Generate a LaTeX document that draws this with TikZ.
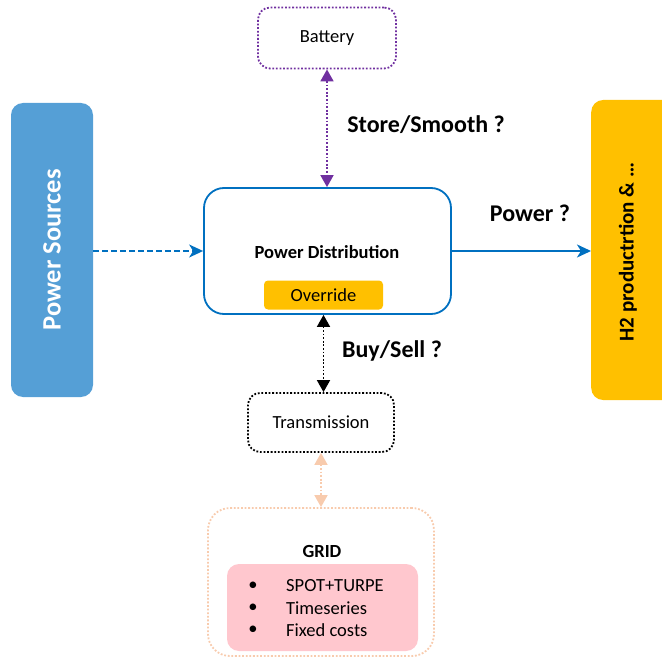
\documentclass[tikz,border=0pt]{standalone}
\usepackage{fontspec}
\setmainfont{Carlito}
\usetikzlibrary{arrows.meta}
\definecolor{pdblue}{HTML}{0070C0}
\definecolor{srcblue}{HTML}{559FD6}
\definecolor{amber}{HTML}{FFC000}
\definecolor{violet}{HTML}{7030A0}
\definecolor{peach}{HTML}{F8CBAD}
\definecolor{rose}{HTML}{FFC7CE}
\tikzset{
  box/.style={rounded corners=12pt, inner sep=0pt, align=center},
  body/.style={font=\fontsize{18.5}{22}\selectfont},
  boldbody/.style={font=\fontsize{18.5}{22}\selectfont\bfseries},
  dotline/.style={line width=1.8pt, dash pattern=on 1.8pt off 1.8pt},
  qlabel/.style={font=\fontsize{24}{28}\selectfont\bfseries, inner sep=0pt},
  bitri/.style={{Triangle[length=12pt,width=13pt]}-{Triangle[length=12pt,width=13pt]}},
  barb/.style={-{Stealth[length=14pt,width=13pt,inset=4pt]}},
}
\begin{document}
\begin{tikzpicture}[x=1pt,y=-1pt]
\useasboundingbox (0,0) rectangle (662,658);

% side boxes
\node[box, fill=srcblue, minimum width=82pt, minimum height=294pt,
      rounded corners=12pt] (src) at (52,250) {};
\node[rotate=90, text=white, font=\fontsize{26.5}{30}\selectfont\bfseries] (srclabel) at (src.center) {Power Sources};
\node[box, fill=amber, minimum width=90pt, minimum height=300pt,
      rounded corners=12pt, anchor=west] (h2) at (591,250) {};
\node[rotate=90, font=\fontsize{21}{25}\selectfont\bfseries] (h2label) at (628,252) {H2 productrtion \& \dots};

% battery
\node[box, body, draw=violet, dotline, minimum width=138pt, minimum height=61pt] (bat) at (327,38) {Battery};

% power distribution
\node[box, draw=pdblue, line width=1.8pt, rounded corners=20pt,
      minimum width=247pt, minimum height=126pt] (pd) at (327.5,251) {};
\node[boldbody, inner sep=0pt] (pdlabel) at (327,252) {Power Distribution};
\node[box, body, fill=amber, rounded corners=4pt, minimum width=119pt, minimum height=29pt] (ovr) at (323.5,295) {Override};

% transmission
\node[box, body, draw=black, dotline, minimum width=146pt, minimum height=59pt] (tx) at (321,422.5) {Transmission};

% grid
\node[box, draw=peach, dotline, rounded corners=22pt, minimum width=226pt,
      minimum height=148pt] (grid) at (321,582) {};
\node[boldbody, inner sep=0pt] (gridlabel) at (322,551) {GRID};
\node[box, fill=rose, rounded corners=12pt, minimum width=191pt, minimum height=87pt] (costs) at (322.5,607.5) {};
\begin{scope}[every node/.style={body, inner sep=0pt}]
  \node (b1) at (253,586) {•};
  \node (b2) at (253,608) {•};
  \node (b3) at (253,630) {•};
  \node[anchor=west] (t1) at (286,586) {SPOT+TURPE};
  \node[anchor=west] (t2) at (286,608) {Timeseries};
  \node[anchor=west] (t3) at (286,630) {Fixed costs};
\end{scope}

% connectors
\coordinate (srcR) at (src.east |- pd.west);
\draw[pdblue, line width=1.8pt, dash pattern=on 6pt off 3pt, barb] (srcR) -- (pd.west);
\coordinate (h2L) at (h2.west |- pd.east);
\draw[pdblue, line width=1.8pt, barb] (pd.east) -- (h2L);
\draw[violet, dotline, bitri] (bat.south) -- (bat.south |- pd.north);
\draw[black, dotline, bitri] (pd.south -| ovr.south) -- (tx.north -| ovr.south);
\draw[peach, dotline, bitri] (tx.south) -- (grid.north);

% labels on connectors
\node[qlabel] (q1) at (426,125) {Store/Smooth ?};
\node[qlabel] (q2) at (530,213) {Power ?};
\node[qlabel] (q3) at (392,351) {Buy/Sell ?};
\end{tikzpicture}
\end{document}
